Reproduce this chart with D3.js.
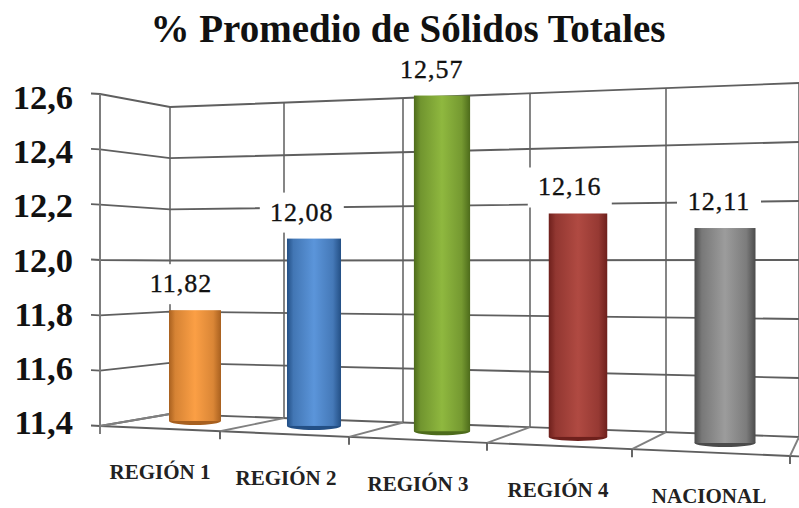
<!DOCTYPE html>
<html><head><meta charset="utf-8">
<script src="https://cdn.jsdelivr.net/npm/d3@7/dist/d3.min.js"></script>
<style>html,body{margin:0;padding:0;background:#fff}svg{display:block}text{font-family:"Liberation Serif",serif}</style>
</head><body><svg id="c" width="799" height="508"></svg>
<script>
const categories = ["REGIÓN 1","REGIÓN 2","REGIÓN 3","REGIÓN 4","NACIONAL"];
const values = [11.82,12.08,12.57,12.16,12.11];
const valueLabels = ["11,82","12,08","12,57","12,16","12,11"];
const ticks = [11.4,11.6,11.8,12.0,12.2,12.4,12.6];
const mid = ["#fb9f45","#5b95da","#8fb83f","#b04a42","#9c9c9c"];
const edge = ["#a8601f","#234f85","#4d6b1b","#6e201c","#4b4b4b"];
const title = "% Promedio de Sólidos Totales";

// layout of the perspective box
const frontX = [100,220,349,487,632,790];
const frontY = d3.scaleLinear().domain([100,790]).range([426,456]);
const backX = [170,284,403,530,666,799];
const backY = d3.scaleLinear().domain([170,799]).range([414,437]);
const barCenters = [195,314,442,578,725];
const domain = [11.4,12.6];
const yFront = d3.scaleLinear().domain(domain).range([426,94]);
const yTickText = d3.scaleLinear().domain(domain).range([434,109]);
const yBackL = d3.scaleLinear().domain(domain).range([414,107]);
const yBackR = d3.scaleLinear().domain(domain).range([437,83]);
const catCenter = d3.scaleOrdinal().domain(categories).range(barCenters);
const barBase = d3.scaleLinear().domain([195,725]).range([424,446]);
const barUnit = d3.scaleLinear().domain([195,442,725]).range([271,289.5,307]);
const barWidth = d3.scaleLinear().domain([195,725]).range([52,61]);
const labelShift = d3.scaleLinear().domain([195,725]).range([-14,-6]);
const labelX = d3.scaleOrdinal().domain(categories).range(barCenters.map(c=>c+labelShift(c)));
const catLabelX = d3.scaleOrdinal().domain(categories).range([160,286,418,558,709]);
const catLabelY = d3.scaleOrdinal().domain(categories).range([479,485,491,497,503]);

const svg = d3.select("#c");
const defs = svg.append("defs");
categories.forEach((c,i)=>{
  const g = defs.append("linearGradient").attr("id","g"+i);
  [[0,edge[i]],[0.12,d3.interpolateRgb(edge[i],mid[i])(0.55)],[0.5,mid[i]],[0.85,d3.interpolateRgb(edge[i],mid[i])(0.6)],[1,edge[i]]]
    .forEach(s=>g.append("stop").attr("offset",s[0]).attr("stop-color",s[1]));
});

const grid = svg.append("g").attr("fill","none").attr("stroke","#5f5f5f").attr("stroke-width",1.9);
backX.forEach(x=>{
  const t = (x-170)/(799-170);
  const top = yBackL(12.6)+(yBackR(12.6)-yBackL(12.6))*t;
  grid.append("line").attr("x1",x).attr("x2",x).attr("y1",top).attr("y2",backY(x)).attr("stroke","#808080");
});
ticks.forEach(v=>{
  grid.append("path").attr("d",d3.line()([[91,yFront(v)-0.5],[100,yFront(v)],[170,yBackL(v)],[799,yBackR(v)]]));
});
grid.append("line").attr("x1",100).attr("x2",100).attr("y1",yFront(12.6)).attr("y2",frontY(100)+8).attr("stroke","#777");
grid.append("path").attr("d",d3.line()([[100,frontY(100)],[790,frontY(790)],[799,frontY(799)]]));
frontX.forEach((x,i)=>{
  grid.append("line").attr("x1",x).attr("x2",backX[i]).attr("y1",frontY(x)).attr("y2",backY(backX[i])).attr("stroke","#808080");
  if(i>0) grid.append("line").attr("x1",x).attr("x2",x).attr("y1",frontY(x)).attr("y2",frontY(x)+8);
});

// label backgrounds break the grid
const bgs = svg.append("g").attr("fill","#fff");
categories.forEach((c,i)=>{
  const cx = catCenter(c), top = barBase(cx)-(values[i]-11.4)*barUnit(cx);
  bgs.append("rect").attr("x",labelX(c)-42).attr("width",84).attr("y",top-46).attr("height",40);
});

// bars
const bars = svg.append("g");
categories.forEach((c,i)=>{
  const cx = catCenter(c), w = barWidth(cx), base = barBase(cx), top = base-(values[i]-11.4)*barUnit(cx);
  bars.append("ellipse").attr("cx",cx).attr("cy",base-3).attr("rx",w/2).attr("ry",4).attr("fill",edge[i]);
  bars.append("rect").attr("x",cx-w/2).attr("y",top).attr("width",w).attr("height",base-top-3).attr("fill",`url(#g${i})`);
});

// value labels
svg.append("g").selectAll("text").data(categories).join("text")
  .attr("x",c=>labelX(c))
  .attr("y",(c,i)=>barBase(catCenter(c))-(values[i]-11.4)*barUnit(catCenter(c))-18)
  .attr("text-anchor","middle").attr("font-size",26).attr("letter-spacing",1)
  .attr("fill","#111").attr("stroke","#111").attr("stroke-width",0.35)
  .text((c,i)=>valueLabels[i]);

// y tick labels
svg.append("g").selectAll("text").data(ticks).join("text")
  .attr("x",73).attr("y",v=>yTickText(v)).attr("text-anchor","end")
  .attr("font-size",34.5).attr("font-weight","bold").attr("fill","#111")
  .text(v=>d3.format(".1f")(v).replace(".",","));

// category labels
svg.append("g").selectAll("text").data(categories).join("text")
  .attr("x",c=>catLabelX(c)).attr("y",c=>catLabelY(c)).attr("text-anchor","middle")
  .attr("font-size",21).attr("font-weight","bold").attr("fill","#222")
  .text(c=>c);

// title
svg.append("text").attr("x",408).attr("y",42).attr("text-anchor","middle")
  .attr("font-size",39).attr("font-weight","bold").attr("fill","#111").text(title);
</script></body></html>
